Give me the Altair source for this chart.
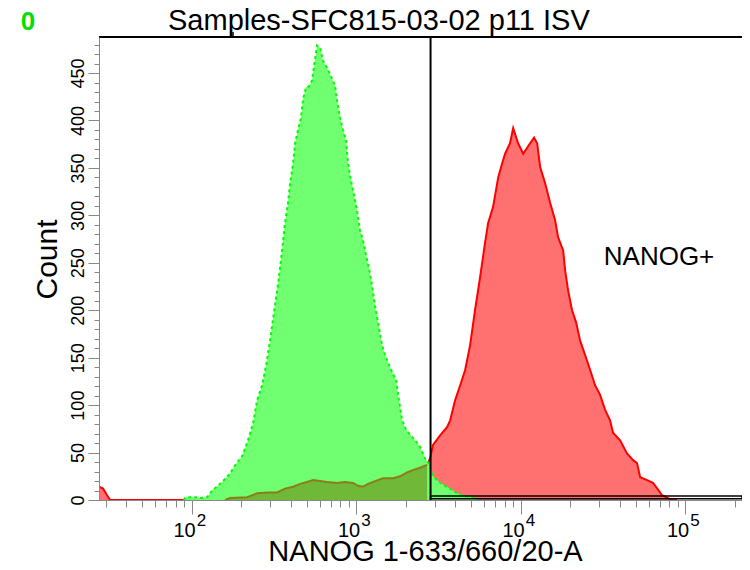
import altair as alt
import numpy as np
import pandas as pd

# ---------------- text ----------------
title_text = "Samples-SFC815-03-02 p11 ISV"
x_title = "NANOG 1-633/660/20-A"
y_title = "Count"
gate_label = "NANOG+"
corner_label = "0"

# ---------------- data (log10 intensity, counts) ----------------
green_log = [1.950, 1.965, 2.020, 2.050, 2.093, 2.129, 2.160, 2.196, 2.233, 2.269, 2.306,
             2.342, 2.373, 2.397, 2.428, 2.452, 2.476, 2.500, 2.525, 2.549, 2.567,
             2.585, 2.598, 2.616, 2.628, 2.646, 2.664, 2.677, 2.695, 2.713, 2.731,
             2.744, 2.762, 2.780, 2.798, 2.817, 2.835, 2.853, 2.871, 2.883, 2.902,
             2.920, 2.938, 2.950, 2.968, 2.987, 3.005, 3.023, 3.041, 3.060, 3.078,
             3.096, 3.114, 3.133, 3.151, 3.169, 3.193, 3.218, 3.242, 3.260, 3.279,
             3.303, 3.327, 3.358, 3.388, 3.418, 3.443, 3.467, 3.497, 3.528, 3.570,
             3.613, 3.661, 3.710, 3.753]
green_count = [0, 3, 3, 2, 3, 11, 15, 21, 28, 38, 46,
               63, 81, 105, 121, 142, 168, 198, 228, 263, 292,
               313, 334, 355, 376, 390, 403, 423, 435, 436, 442,
               458, 479, 477, 463, 457, 451, 444, 437, 421, 403,
               390, 379, 355, 337, 321, 305, 284, 274, 258, 244,
               226, 205, 187, 168, 156, 145, 135, 126, 105, 84,
               74, 69, 63, 56, 44, 38, 25, 20, 16, 12,
               7, 4, 3, 0]

red_log = [1.4365, 1.461, 1.485, 1.504, 2.202, 2.233, 2.337, 2.397, 2.464, 2.519,
           2.567, 2.616, 2.659, 2.701, 2.738, 2.780, 2.823, 2.883, 2.932, 2.981,
           3.011, 3.041, 3.072, 3.102, 3.163, 3.224, 3.266, 3.309, 3.352, 3.388,
           3.431, 3.449, 3.467, 3.510, 3.553, 3.571, 3.601, 3.632, 3.662, 3.692,
           3.722, 3.753, 3.783, 3.802, 3.832, 3.863, 3.887, 3.905, 3.935, 3.954,
           3.984, 4.015, 4.057, 4.081, 4.100, 4.118, 4.148, 4.179, 4.209, 4.227,
           4.258, 4.270, 4.288, 4.312, 4.337, 4.361, 4.391, 4.422, 4.452, 4.482,
           4.513, 4.543, 4.561, 4.604, 4.646, 4.683, 4.707, 4.726, 4.768, 4.804,
           4.835, 4.859, 4.908, 4.950]
red_count = [14, 12, 5, 0, 0, 2, 3, 7, 8, 8,
             12, 14, 17, 19, 21, 20, 19, 18, 19, 18,
             15, 14, 17, 19, 23, 23, 25, 29, 32, 34,
             37, 44, 58, 68, 77, 84, 105, 121, 137, 163,
             200, 235, 271, 292, 309, 340, 355, 365, 376, 392,
             376, 365, 376, 382, 376, 351, 334, 313, 295, 277,
             263, 242, 221, 200, 187, 168, 153, 137, 121, 111,
             95, 84, 71, 63, 49, 42, 39, 24, 21, 18,
             11, 5, 1, 0]

gate_value = 2830          # NANOG+ gate start
gate_bar = [1.3, 4.3]      # gate bar height (counts)
gate_label_pos = [69300, 256]
overlap_range = [100, 2750]

x_min, x_max = 27.3, 221400
y_max = 488
decades = [100, 1000, 10000, 100000]
decade_base = ["10", "10", "10", "10"]
decade_exp = ["2", "3", "4", "5"]
y_ticks = list(range(0, 490, 10))
x_ticks = [m * 10 ** e for e in range(1, 6) for m in range(1, 10)
           if x_min <= m * 10 ** e <= x_max]

W, H = 643, 463
FONT = "Liberation Sans"

green_df = pd.DataFrame({"intensity": np.power(10.0, green_log), "count": green_count})
red_df = pd.DataFrame({"intensity": np.power(10.0, red_log), "count": red_count})
gate_df = pd.DataFrame({"intensity": [gate_value], "x2": [x_max],
                        "count": [gate_bar[0]], "count2": [gate_bar[1]]})
label_df = pd.DataFrame({"intensity": [gate_label_pos[0]], "count": [gate_label_pos[1]],
                         "label": [gate_label]})
dec_df = pd.DataFrame({"intensity": decades, "base": decade_base, "exp": decade_exp})
corner_df = pd.DataFrame({"label": [corner_label]})
title_df = pd.DataFrame({"label": [title_text]})

x_enc = alt.X(
    "intensity:Q",
    scale=alt.Scale(type="log", domain=[x_min, x_max]),
    axis=alt.Axis(
        values=x_ticks, labels=False, grid=False, zindex=1,
        tickSize={"condition": {"test": "indexof([100,1000,10000,100000], datum.value) >= 0",
                                "value": 14}, "value": 7},
        title=x_title, titleX=326, titleY=60, titleAlign="center",
        titleBaseline="alphabetic", titleFontSize=29, titleFont=FONT,
        titleFontWeight="normal",
    ),
)
y_enc = alt.Y(
    "count:Q",
    scale=alt.Scale(domain=[0, y_max]),
    axis=alt.Axis(
        values=y_ticks, grid=False, zindex=1,
        labelExpr="datum.value % 50 == 0 ? datum.label : ''",
        labelAngle=270, labelAlign="center", labelBaseline="alphabetic",
        labelFontSize=18, labelFont=FONT, labelPadding=5,
        tickSize={"condition": {"test": "datum.value % 50 == 0", "value": 11}, "value": 5},
        title=y_title, titleAngle=270, titleX=-52, titleY=222, titleAlign="center",
        titleBaseline="middle", titleFontSize=30, titleFont=FONT, titleFontWeight="normal",
    ),
)

red_area = alt.Chart(red_df).mark_area(color="#ff7070", clip=True).encode(x=x_enc, y=y_enc)
red_line = alt.Chart(red_df).mark_line(color="#ff0000", strokeWidth=2, clip=True).encode(x=x_enc, y=y_enc)
green_area = alt.Chart(green_df).mark_area(color="#70ff70", clip=True).encode(x=x_enc, y=y_enc)
green_line = alt.Chart(green_df).mark_line(color="#00ff00", strokeWidth=2, strokeDash=[3, 3],
                                           clip=True).encode(x=x_enc, y=y_enc)
olive_area = alt.Chart(red_df).transform_filter(
    f"datum.intensity > {overlap_range[0]} && datum.intensity < {overlap_range[1]}"
).mark_area(color="#70b838", clip=True).encode(x=x_enc, y=y_enc)
olive_line = alt.Chart(red_df).transform_filter(
    f"datum.intensity > {overlap_range[0]} && datum.intensity < {overlap_range[1]}"
).mark_line(color="#8c7d1a", strokeWidth=2, clip=True).encode(x=x_enc, y=y_enc)

gate_line = alt.Chart(gate_df).mark_rule(color="black", strokeWidth=2).encode(x=x_enc)
gate_rect = alt.Chart(gate_df).mark_rect(filled=False, stroke="black", strokeWidth=1.5,
                                         clip=True).encode(
    x=x_enc, x2="x2:Q", y=y_enc, y2="count2:Q")
gate_text = alt.Chart(label_df).mark_text(font=FONT, fontSize=26, align="center",
                                          baseline="middle", color="black").encode(
    x=x_enc, y=y_enc, text="label:N")

top_border = alt.Chart(corner_df).mark_rule(color="black", strokeWidth=2).encode(
    x=alt.value(0), x2=alt.value(W), y=alt.value(0))
top_tick = alt.Chart(corner_df).mark_rule(color="black", strokeWidth=1.5).encode(
    x=alt.value(134), y=alt.value(-5), y2=alt.value(0))
corner = alt.Chart(corner_df).mark_text(font=FONT, fontSize=26, fontWeight="bold",
                                        color="#00e000", align="center",
                                        baseline="alphabetic").encode(
    x=alt.value(-71), y=alt.value(-7), text="label:N")
title = alt.Chart(title_df).mark_text(font=FONT, fontSize=29, align="left",
                                      baseline="alphabetic", color="black").encode(
    x=alt.value(69), y=alt.value(-7), text="label:N")

dec_base = alt.Chart(dec_df).mark_text(font=FONT, fontSize=20, align="right", dx=4,
                                       baseline="alphabetic", color="black").encode(
    x=x_enc, y=alt.value(500), text="base:N")
dec_exp = alt.Chart(dec_df).mark_text(font=FONT, fontSize=17, align="left", dx=5,
                                      baseline="alphabetic", color="black").encode(
    x=x_enc, y=alt.value(489), text="exp:N")

chart = alt.layer(
    red_area, red_line, green_area, green_line, olive_area, olive_line,
    gate_rect, gate_line, gate_text, top_border, top_tick, corner, title,
    dec_base, dec_exp,
).properties(
    width=W, height=H,
    autosize=alt.AutoSizeParams(type="none"),
    padding={"left": 91, "top": 29, "right": 0, "bottom": 66},
).configure_view(stroke=None).configure_axis(
    domainColor="black", domainWidth=2, tickColor="black", tickWidth=1.5,
    labelColor="black", titleColor="black",
).configure(font=FONT)

chart.save("out.html", embed_options={"renderer": "svg", "actions": False})
